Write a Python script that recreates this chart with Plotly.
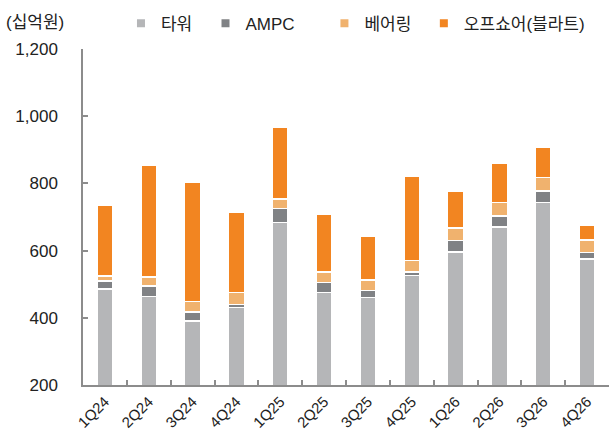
import plotly.graph_objects as go

quarters = ["1Q24", "2Q24", "3Q24", "4Q24", "1Q25", "2Q25", "3Q25", "4Q25",
            "1Q26", "2Q26", "3Q26", "4Q26"]
tower = [486, 463, 390, 431, 684, 476, 461, 526, 596, 670, 743, 575]
ampc = [24, 32, 28, 9, 41, 29, 20, 10, 34, 33, 34, 20]
bearing = [15, 27, 30, 36, 29, 31, 32, 34, 37, 40, 40, 37]
offshore = [210, 333, 354, 238, 213, 172, 131, 252, 111, 116, 91, 44]

series = [
    ("타워", tower, "#B5B6B8"),
    ("AMPC", ampc, "#808285"),
    ("베어링", bearing, "#F0B26E"),
    ("오프쇼어(블라트)", offshore, "#F28521"),
]

FONT = "Liberation Sans, Noto Sans CJK KR, Arial, sans-serif"

fig = go.Figure()
legend_ids = ["legend", "legend2", "legend3", "legend4"]
for (name, vals, color), lg in zip(series, legend_ids):
    fig.add_trace(go.Bar(
        x=quarters, y=vals, name=name, marker_color=color,
        marker_line=dict(color="white", width=1.5),
        showlegend=False,
    ))
    fig.add_trace(go.Scatter(
        x=[None], y=[None], mode="markers", name=name,
        marker=dict(symbol="square", size=8, color=color),
        legend=lg, showlegend=True,
    ))

legend_x = [0.0722, 0.2329, 0.459, 0.648]
legend_common = dict(orientation="h", y=1.075, yanchor="middle", xanchor="left",
                     font=dict(family=FONT, size=17, color="#222"),
                     bgcolor="rgba(0,0,0,0)")

fig.update_layout(
    barmode="stack",
    bargap=0.64,
    width=609, height=443,
    margin=dict(l=83, r=0, t=49, b=58, autoexpand=False),
    plot_bgcolor="white", paper_bgcolor="white",
    font=dict(family=FONT, size=17, color="#222"),
    legend=dict(x=legend_x[0], **legend_common),
    legend2=dict(x=legend_x[1], **legend_common),
    legend3=dict(x=legend_x[2], **legend_common),
    legend4=dict(x=legend_x[3], **legend_common),
    xaxis=dict(
        showline=True, linecolor="#8C8C8C", linewidth=2,
        ticks="inside", ticklen=5, tickcolor="#8C8C8C", tickwidth=1.5,
        tickson="boundaries", tickangle=-45, automargin=False,
        tickfont=dict(family=FONT, size=15, color="#222"),
        showgrid=False, zeroline=False,
    ),
    yaxis=dict(
        range=[200, 1200], tickvals=[200, 400, 600, 800, 1000, 1200],
        tickformat=",", automargin=False,
        showline=True, linecolor="#8C8C8C", linewidth=1.5,
        ticks="inside", ticklen=5, tickcolor="#8C8C8C", tickwidth=1.5,
        ticklabelstandoff=20,
        tickfont=dict(family=FONT, size=17, color="#222"),
        showgrid=False, zeroline=False,
    ),
    annotations=[dict(
        text="(십억원)", xref="paper", yref="paper",
        x=-83 / 526 + 4 / 526, y=1 + (49 - 22) / 336,
        xanchor="left", yanchor="middle", showarrow=False,
        font=dict(family=FONT, size=17, color="#222"),
    )],
)

fig.write_html("out.html", config={"displayModeBar": False},
               post_script="document.body.style.margin='0';")
